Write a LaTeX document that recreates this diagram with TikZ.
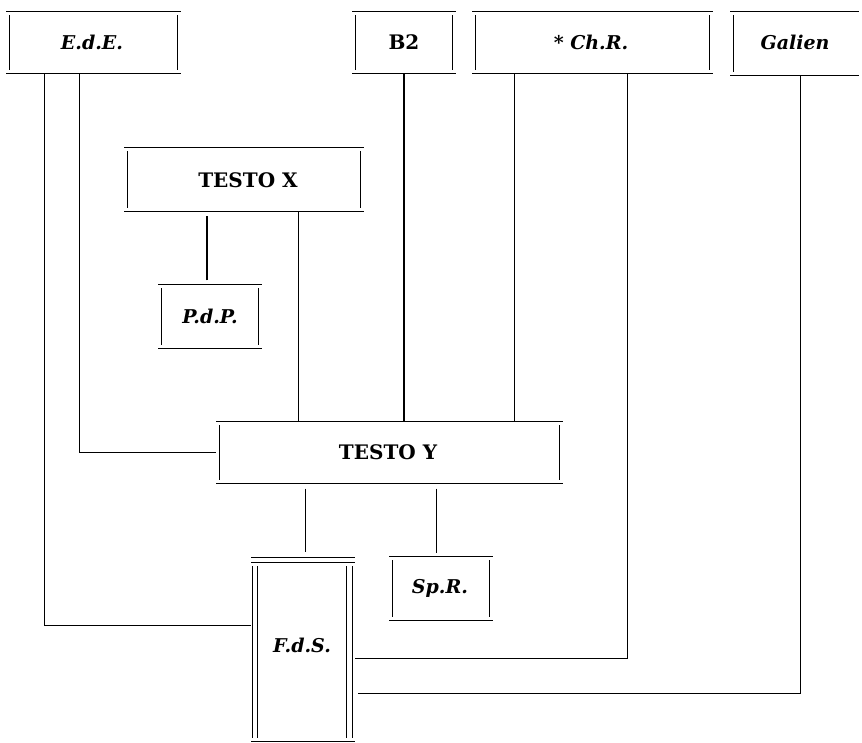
\documentclass[tikz,border=0pt]{standalone}
\usepackage{fontspec}
\setmainfont{DejaVu Serif}
\begin{document}
\begin{tikzpicture}[x=1pt,y=-1pt,line width=1.3pt,
  bx/.style={rectangle,draw=none,inner sep=0pt},
  lab/.style={font=\fontsize{19}{24}\selectfont\bfseries\itshape},
  capsty/.style={font=\fontsize{20}{24}\selectfont\bfseries}]
\useasboundingbox (0,0) rectangle (862,743);
\newcommand\sidesW[1]{\draw ([shift={(3pt,-4pt)}]#1.north west) -- ([shift={(3pt,4pt)}]#1.south west);}
\newcommand\sidesE[1]{\draw ([shift={(-3pt,-4pt)}]#1.north east) -- ([shift={(-3pt,4pt)}]#1.south east);}
\newcommand\tb[1]{\draw (#1.north west) -- (#1.north east); \draw (#1.south west) -- (#1.south east);}
\newcommand\fullbox[1]{\tb{#1}\sidesW{#1}\sidesE{#1}}

\node[bx,minimum width=173pt,minimum height=61pt] (ede) at (93.5,42.5) {};
\node[lab] at (92,42.5) {E.d.E.};
\node[bx,minimum width=102pt,minimum height=61pt] (b2) at (404,42.5) {};
\node[capsty] at (b2) {B2};
\node[bx,minimum width=239pt,minimum height=61pt] (chr) at (592.5,42.5) {};
\node[lab] at (591,42.5) {* Ch.R.};
\node[bx,minimum width=127pt,minimum height=63pt] (gal) at (794.5,43.5) {};
\node[lab] at (795,42.5) {Galien};
\node[bx,minimum width=238pt,minimum height=63pt] (tx) at (244,179.5) {};
\node[capsty] at (248,180) {TESTO X};
\node[bx,minimum width=102pt,minimum height=63pt] (pdp) at (210,316.5) {};
\node[lab] at (pdp) {P.d.P.};
\node[bx,minimum width=345pt,minimum height=61pt] (ty) at (389.5,452.5) {};
\node[capsty] at (388,452) {TESTO Y};
\node[bx,minimum width=102pt,minimum height=183pt] (fds) at (303,649.5) {};
\node[lab] at (302,645) {F.d.S.};
\node[bx,minimum width=102pt,minimum height=63pt] (spr) at (441,588.5) {};
\node[lab] at (440,588) {Sp.R.};

\fullbox{ede}
\fullbox{b2}
\fullbox{chr}
\tb{gal}\sidesW{gal}
\fullbox{tx}
\fullbox{pdp}
\fullbox{ty}
\fullbox{spr}
% F.d.S. double lines
\tb{fds}
\draw ([yshift=-5pt]fds.north west) -- ([yshift=-5pt]fds.north east);
\draw ([shift={(1pt,-9pt)}]fds.north west) -- ([shift={(1pt,4pt)}]fds.south west);
\draw ([shift={(6pt,-9pt)}]fds.north west) -- ([shift={(6pt,4pt)}]fds.south west);
\draw ([shift={(-2pt,-9pt)}]fds.north east) -- ([shift={(-2pt,4pt)}]fds.south east);
\draw ([shift={(-8pt,-9pt)}]fds.north east) -- ([shift={(-8pt,4pt)}]fds.south east);

% connectors
\draw ([xshift=38pt]ede.south west) |- ([yshift=-68pt]fds.north west);
\draw ([xshift=73pt]ede.south west) |- (ty.west);
\draw ([xshift=174pt]tx.south west) coordinate (c1) -- (c1 |- ty.north);
\draw ([shift={(-3pt,4pt)}]pdp.north) -- ++(0,-64);
\draw (b2.south) -- (b2.south |- ty.north);
\draw ([xshift=42pt]chr.south west) coordinate (c2) -- (c2 |- ty.north);
\draw ([xshift=155pt]chr.south west) |- ([yshift=-101pt]fds.north east);
\draw ([xshift=70pt]gal.south west) |- ([shift={(3pt,-136pt)}]fds.north east);
\draw ([shift={(89pt,-5pt)}]ty.south west) -- ++(0,63);
\draw ([shift={(220pt,-5pt)}]ty.south west) -- ++(0,64);
\end{tikzpicture}
\end{document}
